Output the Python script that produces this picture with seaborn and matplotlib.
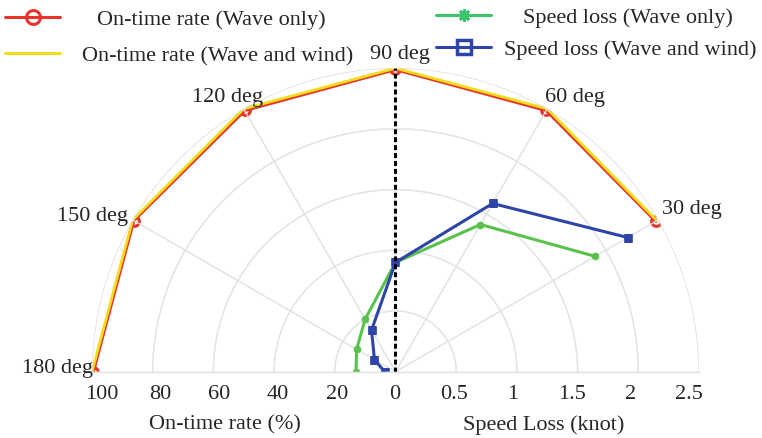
import numpy as np
import pandas as pd
import matplotlib
matplotlib.use("Agg")
import matplotlib.pyplot as plt
from matplotlib.lines import Line2D
import seaborn as sns

# ---------------- data ----------------
angles_deg = [30, 60, 90, 120, 150, 180]
angle_labels = ["30 deg", "60 deg", "90 deg", "120 deg", "150 deg", "180 deg"]
ontime_wave = [99.1, 99.4, 99.6, 99.4, 99.6, 99.6]
ontime_wave_wind = [99.5, 100.0, 100.0, 100.0, 100.0, 100.0]
speed_wave = [1.90, 1.40, 0.90, 0.50, 0.37, 0.325]
speed_wave_wind = [2.21, 1.60, 0.90, 0.395, 0.20, 0.09]
ontime_ticks = [100, 80, 60, 40, 20]
speed_ticks = [0.5, 1, 1.5, 2, 2.5]

RED = "#e8352b"
YELLOW = "#f2dd1c"
GREEN = "#58c24c"
BLUE = "#2e44a6"
GRID = "#e4e4e4"

sns.set_theme(style="white")
plt.rcParams["font.family"] = ["Liberation Serif", "DejaVu Serif"]
FS = 16

df = pd.DataFrame({
    "theta": np.deg2rad(angles_deg),
    "ontime_wave": ontime_wave,
    "ontime_wave_wind": ontime_wave_wind,
    "speed_wave": speed_wave,
    "speed_wave_wind": speed_wave_wind,
})

W, H = 762, 438
fig = plt.figure(figsize=(W / 100, H / 100), dpi=100)
R, cx, cy = 303.5, 395.5, 371.7
# polar half-wedge is centred vertically in its (square) box
box_bottom = H - (cy - R / 2) - R
pos = [(cx - R) / W, box_bottom / H, 2 * R / W, 2 * R / H]


def setup(ax, rmax, grid):
    ax.set_thetamin(0)
    ax.set_thetamax(180)
    ax.set_rlim(0, rmax)
    ax.set_aspect("auto")
    ax.set_xticks(np.deg2rad([0, 30, 60, 90, 120, 150, 180]))
    ax.set_xticklabels([])
    ax.set_yticks(np.linspace(rmax / 5, rmax, 5))
    ax.set_yticklabels([])
    ax.tick_params(length=0, width=0)
    ax.xaxis.grid(grid, color=GRID, lw=0.9)
    ax.yaxis.grid(grid, color=GRID, lw=0.9)
    for s in ax.spines.values():
        s.set_color(GRID)
        s.set_linewidth(0.9)
        s.set_visible(False)
    ax.set_xlabel("")
    ax.set_ylabel("")


ax = fig.add_axes(pos, projection="polar")
setup(ax, 100, True)
ax2 = fig.add_axes(pos, projection="polar", label="speed")
setup(ax2, 2.5, False)
ax2.patch.set_visible(False)

# On-time rate
sns.lineplot(data=df, x="theta", y="ontime_wave", ax=ax, sort=False, color=RED,
             lw=2.4, marker="o", markersize=7, markerfacecolor="none",
             markeredgecolor=RED, markeredgewidth=2.2, legend=False)
sns.lineplot(data=df, x="theta", y="ontime_wave_wind", ax=ax, sort=False,
             color=YELLOW, lw=2.0, legend=False)

# Speed loss
sns.lineplot(data=df, x="theta", y="speed_wave", ax=ax2, sort=False, color=GREEN,
             lw=2.2, marker="o", markersize=5, markerfacecolor=GREEN,
             markeredgecolor=GREEN, markeredgewidth=0.5, legend=False)
sns.lineplot(data=df, x="theta", y="speed_wave_wind", ax=ax2, sort=False, color=BLUE,
             lw=2.2, marker="s", markersize=5.5, markerfacecolor=BLUE,
             markeredgecolor=BLUE, markeredgewidth=0.5, legend=False)
for a in (ax, ax2):
    a.set_xlabel("")
    a.set_ylabel("")
    a.set_aspect("auto")

# center dashed line
ax2.axvline(np.pi / 2, ymin=0, ymax=1, color="black", lw=2.2,
            linestyle=(0, (1.6, 1.0)), zorder=5)

# angle labels
offsets = {
    30: ((2.7, 7.4), "left"),
    60: ((-1.5, 8.0), "left"),
    90: ((3.2, 10.0), "center"),
    120: ((-11.7, 8.0), "center"),
    150: ((-3.4, 2.3), "right"),
    180: ((0.7, 2.0), "right"),
}
for a, lab in zip(angles_deg, angle_labels):
    off, ha = offsets[a]
    ax.annotate(lab, xy=(np.deg2rad(a), 100), xytext=off, textcoords="offset points",
                ha=ha, va="center", fontsize=FS, annotation_clip=False)

# bottom tick labels
TY = -16.6
for v in ontime_ticks:
    ax.annotate(f"{v:g}", xy=(np.pi, v * 0.967), xytext=(0, TY),
                textcoords="offset points", ha="center", va="center",
                fontsize=FS, annotation_clip=False)
ax.annotate("0", xy=(0, 0), xytext=(-0.7, TY), textcoords="offset points",
            ha="center", va="center", fontsize=FS, annotation_clip=False)
for v in speed_ticks:
    ax2.annotate(f"{v:g}", xy=(0, v * 0.967), xytext=(0, TY),
                 textcoords="offset points", ha="center", va="center",
                 fontsize=FS, annotation_clip=False)

fig.text(225 / W, 1 - 425 / H, "On-time rate (%)", ha="center", va="center", fontsize=FS)
fig.text(544 / W, 1 - 425 / H, "Speed Loss (knot)", ha="center", va="center", fontsize=FS)

# legends
def add_leg(handle, label, x_px, y_px, pad):
    fig.legend([handle], [label], loc="center left",
               bbox_to_anchor=(x_px / W, 1 - y_px / H), frameon=False,
               fontsize=FS, handlelength=2.48, handletextpad=pad,
               borderpad=0, borderaxespad=0)

add_leg(Line2D([], [], color=RED, lw=2.2, marker="o", ms=10, mfc="none", mew=2.2),
        "On-time rate (Wave only)", 5, 20, 1.67)
add_leg(Line2D([], [], color=YELLOW, lw=2.2),
        "On-time rate (Wave and wind)", 5, 56, 0.99)
add_leg(Line2D([], [], color="#3cc46a", lw=2.2, marker=(8, 2, 0), ms=9, mew=2),
        "Speed loss (Wave only)", 436, 18, 1.44)
add_leg(Line2D([], [], color=BLUE, lw=2.2, marker="s", ms=9.5, mfc="none", mew=2.5),
        "Speed loss (Wave and wind)", 436, 50, 0.59)

fig.savefig("out.png", dpi=100)
